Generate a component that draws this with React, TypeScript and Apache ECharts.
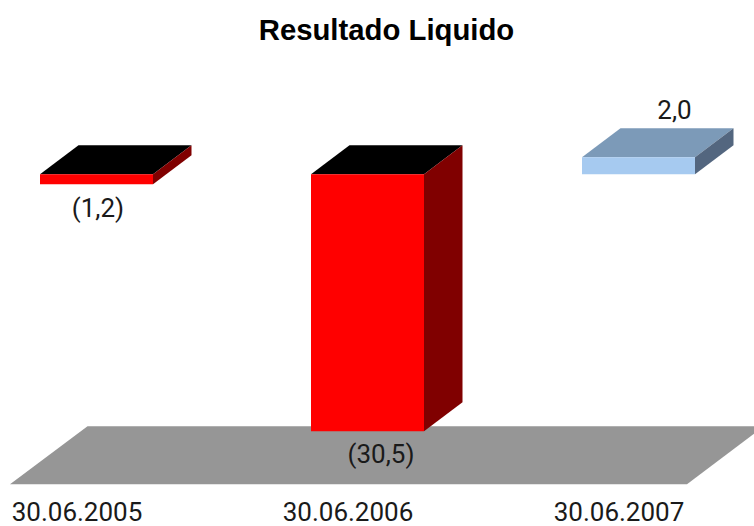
import React, { useEffect, useRef } from "react";
import * as echarts from "echarts";

const categories = ["30.06.2005", "30.06.2006", "30.06.2007"];
const values = [-1.2, -30.5, 2.0];
const valueLabels = ["(1,2)", "(30,5)", "2,0"];
const floorValue = -36.8;

const FONT = "Roboto";
const FRONT_NEG = "#ff0000";
const SIDE_NEG = "#800000";
const TOP_NEG = "#000000";
const FRONT_POS = "#a6caf0";
const SIDE_POS = "#53667f";
const TOP_POS = "#7c9ab8";
const FLOOR = "#969696";

const DEPTH_X = 38.5;
const DEPTH_Y = 29;
const BAR_W = 113;
const BAR_SHIFT = 19.5;
const labelShift: [number, number][] = [
  [1.5, 24],
  [13.5, 23],
  [36, -47],
];

export default function App() {
  const ref = useRef<HTMLDivElement>(null);
  useEffect(() => {
    document.body.style.margin = "0";
    const chart = echarts.init(ref.current!, null, { renderer: "svg" });
    chart.setOption({
      animation: false,
      backgroundColor: "#ffffff",
      title: {
        text: "Resultado Liquido",
        left: 381.5,
        top: 10,
        textAlign: "center",
        textStyle: { fontFamily: "Liberation Sans", fontWeight: "bold", fontSize: 29.3, color: "#000" },
      },
      grid: { left: 77, right: 135, top: 132, bottom: 40 },
      xAxis: {
        type: "category",
        data: categories,
        boundaryGap: false,
        axisLine: { show: false },
        axisTick: { show: false },
        axisLabel: { fontFamily: FONT, fontSize: 26, color: "#1a1a1a", margin: 13, interval: 0, hideOverlap: false },
      },
      yAxis: { type: "value", min: -37, max: 5, interval: 1, show: false },
      series: [
        {
          type: "custom",
          clip: false,
          silent: true,
          z: 1,
          data: [[0, floorValue]],
          encode: { x: 0, y: 1 },
          renderItem: (_p: any, api: any) => {
            const x0 = api.coord([0, api.value(1)])[0];
            const step = api.coord([1, api.value(1)])[0] - x0;
            const yFront = api.coord([0, api.value(1)])[1];
            const l = x0 - 0.2472 * step;
            const r = x0 + 2 * step + 0.2509 * step;
            const dx = DEPTH_X * 2;
            const dy = DEPTH_Y * 2;
            return {
              type: "polygon",
              shape: { points: [[l, yFront], [r, yFront], [r + dx, yFront - dy], [l + dx + 0.5, yFront - dy]] },
              style: { fill: FLOOR },
            };
          },
        },
        {
          type: "custom",
          clip: false,
          silent: true,
          z: 2,
          data: values.map((v, i) => [i, v]),
          encode: { x: 0, y: 1 },
          renderItem: (p: any, api: any) => {
            const i = api.value(0);
            const v = api.value(1);
            const [cx0, yv] = api.coord([i, v]);
            const y0 = api.coord([i, 0])[1];
            const cx = cx0 + BAR_SHIFT;
            const l = cx - BAR_W / 2;
            const r = cx + BAR_W / 2;
            const t = Math.min(yv, y0);
            const b = Math.max(yv, y0);
            const neg = v < 0;
            return {
              type: "group",
              children: [
                {
                  type: "polygon",
                  shape: { points: [[l, t], [r, t], [r + DEPTH_X, t - DEPTH_Y], [l + DEPTH_X, t - DEPTH_Y]] },
                  style: { fill: neg ? TOP_NEG : TOP_POS },
                },
                {
                  type: "polygon",
                  shape: { points: [[r, t], [r + DEPTH_X, t - DEPTH_Y], [r + DEPTH_X, b - DEPTH_Y], [r, b]] },
                  style: { fill: neg ? SIDE_NEG : SIDE_POS },
                },
                {
                  type: "rect",
                  shape: { x: l, y: t, width: r - l, height: b - t },
                  style: { fill: neg ? FRONT_NEG : FRONT_POS },
                },
                {
                  type: "text",
                  x: cx + labelShift[i][0],
                  y: (neg ? b : t) + labelShift[i][1],
                  style: {
                    text: valueLabels[i],
                    fontFamily: FONT,
                    fontSize: 26,
                    fill: "#1a1a1a",
                    textAlign: "center",
                    textVerticalAlign: "middle",
                  },
                },
              ],
            };
          },
        },
      ],
    });
    return () => chart.dispose();
  }, []);
  return <div ref={ref} style={{ width: 754, height: 526, overflow: "hidden" }} />;
}
